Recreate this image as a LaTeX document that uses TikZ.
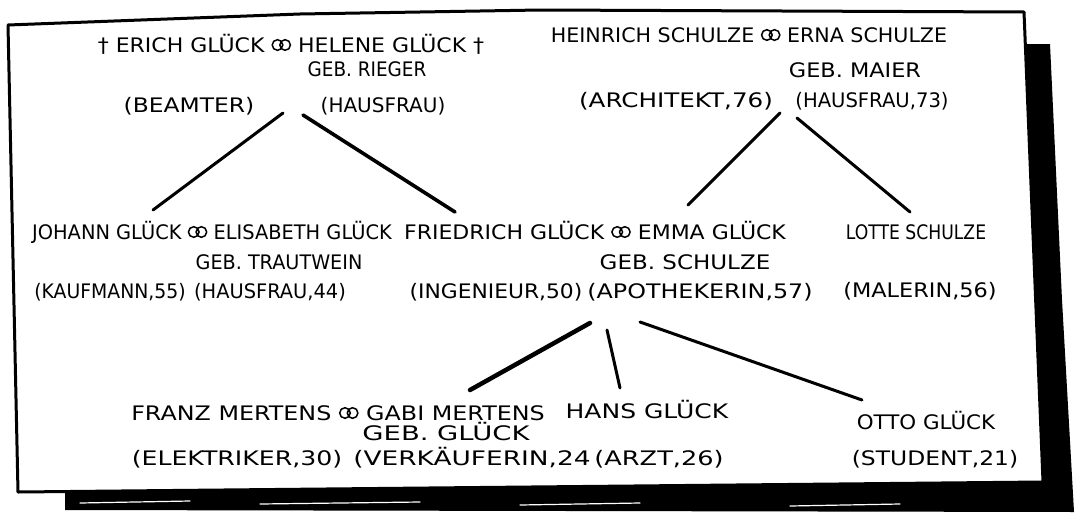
\documentclass[tikz,border=0pt]{standalone}
\usepackage{fontspec}
\setmainfont{DejaVu Sans}
\newcommand\ehe{\tikz[baseline=0pt,x=1pt,y=1pt,line width=1.5pt]
  \draw (0,7) circle[radius=5.3] (7.6,7) circle[radius=5.3];}
\begin{document}
\begin{tikzpicture}[x=1pt,y=-1pt,
    pers/.style={inner sep=0pt,text height=14pt,text depth=0pt,
                 font={\fontsize{20}{24}\selectfont\addfontfeatures{FakeStretch=#1}}},
    pers/.default=1,
    arco/.style={line width=3pt,line cap=round},
    schatten/.style={fill=black},
    blatt/.style={fill=white,draw=black,line width=3pt,line join=round},
    streif/.style={white,line width=1.2pt,line cap=round}]
  \useasboundingbox (0,0) rectangle (1078,514);

  % ---- blatt mit schatten --------------------------------------------------
  \fill[schatten] (1022,44) -- (1050,44) -- (1062,300) -- (1074,512)
                  -- (65,510) -- (65,484) -- cycle;
  \draw[streif] (80,503) -- (190,501)  (260,504) -- (420,502)
                (520,505) -- (640,503)  (790,506) -- (900,504);
  \draw[blatt] (8,25) -- (300,14) -- (540,10) -- (1024,12)
               -- (1043,482) -- (18,492) -- cycle;

  % ---- grosseltern ---------------------------------------------------------
  \node[pers=1.10] (erich)     at (291,45)  {† ERICH GLÜCK \ehe{} HELENE GLÜCK †};
  \node[pers=0.92] (rieger)    at (367,69)  {GEB. RIEGER};
  \node[pers=1.17] (beamter)   at (189,105) {(BEAMTER)};
  \node[pers=1.00] (hausfrauA) at (383,105) {(HAUSFRAU)};

  \node[pers=1.03] (heinrich)  at (749,35)  {HEINRICH SCHULZE \ehe{} ERNA SCHULZE};
  \node[pers=1.12] (maier)     at (855,70)  {GEB. MAIER};
  \node[pers=1.23] (architekt) at (676,100) {(ARCHITEKT,76)};
  \node[pers=0.98] (hausfrauB) at (872,100) {(HAUSFRAU,73)};

  % ---- eltern --------------------------------------------------------------
  \node[pers=0.97] (johann)    at (212,232) {JOHANN GLÜCK \ehe{} ELISABETH GLÜCK};
  \node[pers=0.96] (trautwein) at (279,262) {GEB. TRAUTWEIN};
  \node[pers=0.94] (kaufmann)  at (110,291) {(KAUFMANN,55)};
  \node[pers=0.97] (hausfrauC) at (270,291) {(HAUSFRAU,44)};

  \node[pers=1.10] (friedrich) at (595,232) {FRIEDRICH GLÜCK \ehe{} EMMA GLÜCK};
  \node[pers=1.15] (schulze)   at (685,262) {GEB. SCHULZE};
  \node[pers=1.09] (ingenieur) at (496,291) {(INGENIEUR,50)};
  \node[pers=1.19] (apotheker) at (700,291) {(APOTHEKERIN,57)};

  \node[pers=0.86] (lotte)     at (916,232) {LOTTE SCHULZE};
  \node[pers=1.12] (malerin)   at (920,290) {(MALERIN,56)};

  % ---- kinder --------------------------------------------------------------
  \node[pers=1.19] (franz)     at (338,413) {FRANZ MERTENS \ehe{} GABI MERTENS};
  \node[pers=1.37] (gabi)      at (446,433) {GEB. GLÜCK};
  \node[pers=1.26] (elektrik)  at (237,458) {(ELEKTRIKER,30)};
  \node[pers=1.32] (verkauf)   at (472,458) {(VERKÄUFERIN,24};

  \node[pers=1.25] (hans)      at (647,411) {HANS GLÜCK};
  \node[pers=1.28] (arzt)      at (659,458) {(ARZT,26)};

  \node[pers=1.07] (otto)      at (926,422) {OTTO GLÜCK};
  \node[pers=1.17] (student)   at (935,458) {(STUDENT,21)};

  % ---- linien --------------------------------------------------------------
  \draw[arco] ([shift={(94,8)}]beamter.center)    -- ([shift={(-59,-22)}]johann.center);
  \draw[arco,line width=3.6pt]
              ([shift={(-80,10)}]hausfrauA.center) -- ([shift={(-140,-20)}]friedrich.center);
  \draw[arco] ([shift={(104,13)}]architekt.center) -- ([shift={(93,-27)}]friedrich.center);
  \draw[arco] ([shift={(-75,18)}]hausfrauB.center) -- ([shift={(-6,-20)}]lotte.center);
  \draw[arco,line width=4.5pt]
              ([shift={(94,32)}]ingenieur.center)  -- ([shift={(132,-23)}]franz.center);
  \draw[arco] ([shift={(-93,39)}]apotheker.center) -- ([shift={(-27,-23)}]hans.center);
  \draw[arco] ([shift={(-60,31)}]apotheker.center) -- ([shift={(-64,-22)}]otto.center);
\end{tikzpicture}
\end{document}
